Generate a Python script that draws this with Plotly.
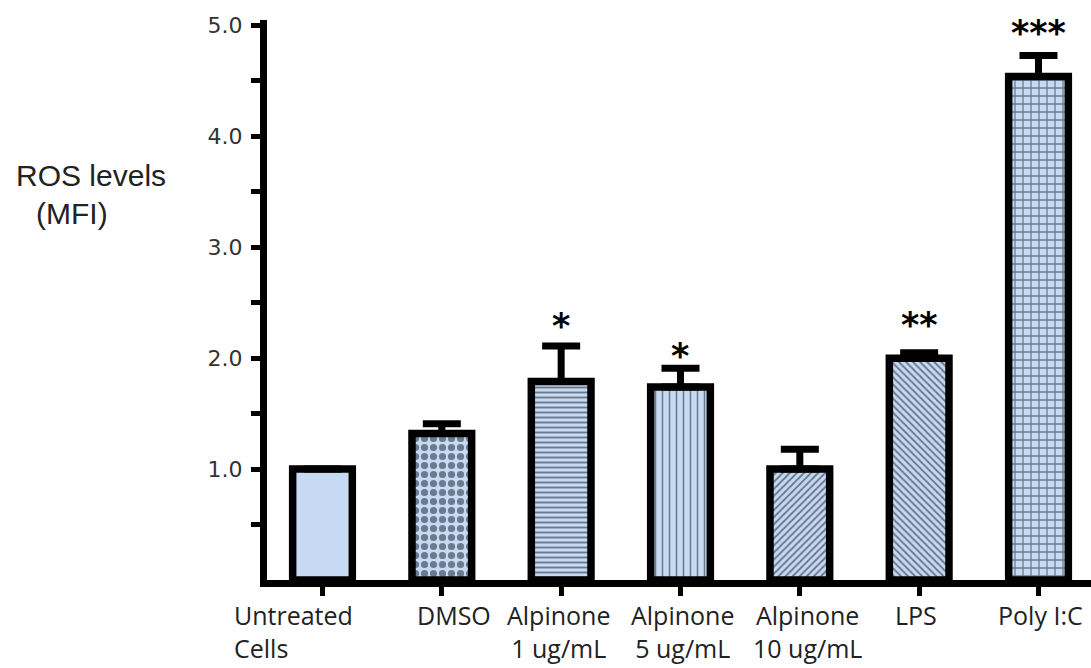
import plotly.graph_objects as go

# ---- data ----
categories = ["Untreated Cells", "DMSO", "Alpinone 1 ug/mL", "Alpinone 5 ug/mL",
              "Alpinone 10 ug/mL", "LPS", "Poly I:C"]
x_labels = ["Untreated<br>Cells", "DMSO", "Alpinone<br>1 ug/mL", "Alpinone<br>5 ug/mL",
            "Alpinone<br>10 ug/mL", "LPS", "Poly I:C"]
ros_mean = [1.00, 1.32, 1.79, 1.74, 1.00, 2.00, 4.54]
ros_err = [0.00, 0.09, 0.32, 0.17, 0.18, 0.05, 0.19]
significance = ["", "", "*", "*", "", "**", "***"]
y_tickvals = [0.5, 1.0, 1.5, 2.0, 2.5, 3.0, 3.5, 4.0, 4.5, 5.0]
y_ticktext = ["", "1.0", "", "2.0", "", "3.0", "", "4.0", "", "5.0"]

# ---- style ----
fill = "#c6daf4"
pattern_fg = "#111a26"
shapes = ["", ".", "-", "|", "/", "\\", "+"]
psize = [8, 9, 5, 7, 5, 5, 8]
psolid = [0.3, 0.5, 0.38, 0.22, 0.4, 0.4, 0.3]
label_xshift = [-90, 12, -3, 2, 8, -3, 2]
star_yshift = [0, 0, 20, 12, 0, 28, 22]

fig = go.Figure()
fig.add_trace(go.Bar(
    x=categories, y=ros_mean, width=0.5,
    marker=dict(color=fill, line=dict(color="black", width=7.5),
                pattern=dict(shape=shapes, size=psize, solidity=psolid,
                             fgcolor=pattern_fg, fillmode="overlay")),
    error_y=dict(type="data", symmetric=False, array=ros_err,
                 arrayminus=[0] * len(ros_err), thickness=7, width=19,
                 color="black"),
    showlegend=False,
))

annotations = []
for i, (cat, lab) in enumerate(zip(categories, x_labels)):
    annotations.append(dict(x=cat, y=0, xref="x", yref="y", text=lab,
                            showarrow=False,
                            xanchor="left" if i == 0 else "center",
                            align="left" if i == 0 else "center",
                            yanchor="top", xshift=label_xshift[i], yshift=-16,
                            font=dict(family="Open Sans", size=25, color="#222")))

for i, (cat, s) in enumerate(zip(categories, significance)):
    if s:
        annotations.append(dict(x=cat, y=ros_mean[i] + ros_err[i], xref="x", yref="y",
                                text="<b>" + s + "</b>", showarrow=False,
                                xanchor="center", yanchor="middle",
                                yshift=star_yshift[i],
                                font=dict(family="DejaVu Sans", size=35, color="black")))

W, H = 1091, 668
L, R, T, B = 267, 0, 20, 88
pw, ph = W - L - R, H - T - B


def px_to_paper(xp, yp):
    return (xp - L) / pw, 1 - (yp - T) / ph


ax1, ay1 = px_to_paper(14, 175)
ax2, ay2 = px_to_paper(34, 213)
annotations.append(dict(x=ax1, y=ay1, xref="paper", yref="paper", text="ROS levels",
                        showarrow=False, xanchor="left", yanchor="middle",
                        font=dict(family="Liberation Sans", size=30, color="#222")))
annotations.append(dict(x=ax2, y=ay2, xref="paper", yref="paper", text="(MFI)",
                        showarrow=False, xanchor="left", yanchor="middle",
                        font=dict(family="Liberation Sans", size=30, color="#222")))

fig.update_layout(
    width=W, height=H,
    margin=dict(l=L, r=R, t=T, b=B, autoexpand=False),
    plot_bgcolor="white", paper_bgcolor="white",
    annotations=annotations,
    xaxis=dict(range=[-0.465, 6.44], showticklabels=False, ticks="outside",
               ticklen=9, tickwidth=5, tickcolor="black", showline=True,
               linewidth=7, linecolor="black", showgrid=False, zeroline=False),
    yaxis=dict(range=[0, 5.05], tickvals=y_tickvals, ticktext=y_ticktext,
               ticks="outside", ticklen=9, tickwidth=5, tickcolor="black",
               showline=True, linewidth=7, linecolor="black", showgrid=False,
               zeroline=False, ticklabelstandoff=4,
               tickfont=dict(family="DejaVu Sans", size=22, color="#333")),
)
fig.update_traces(cliponaxis=False)

fig.write_html("out.html", config={"displayModeBar": False},
               post_script="document.body.style.margin='0';document.body.style.overflow='hidden';")
